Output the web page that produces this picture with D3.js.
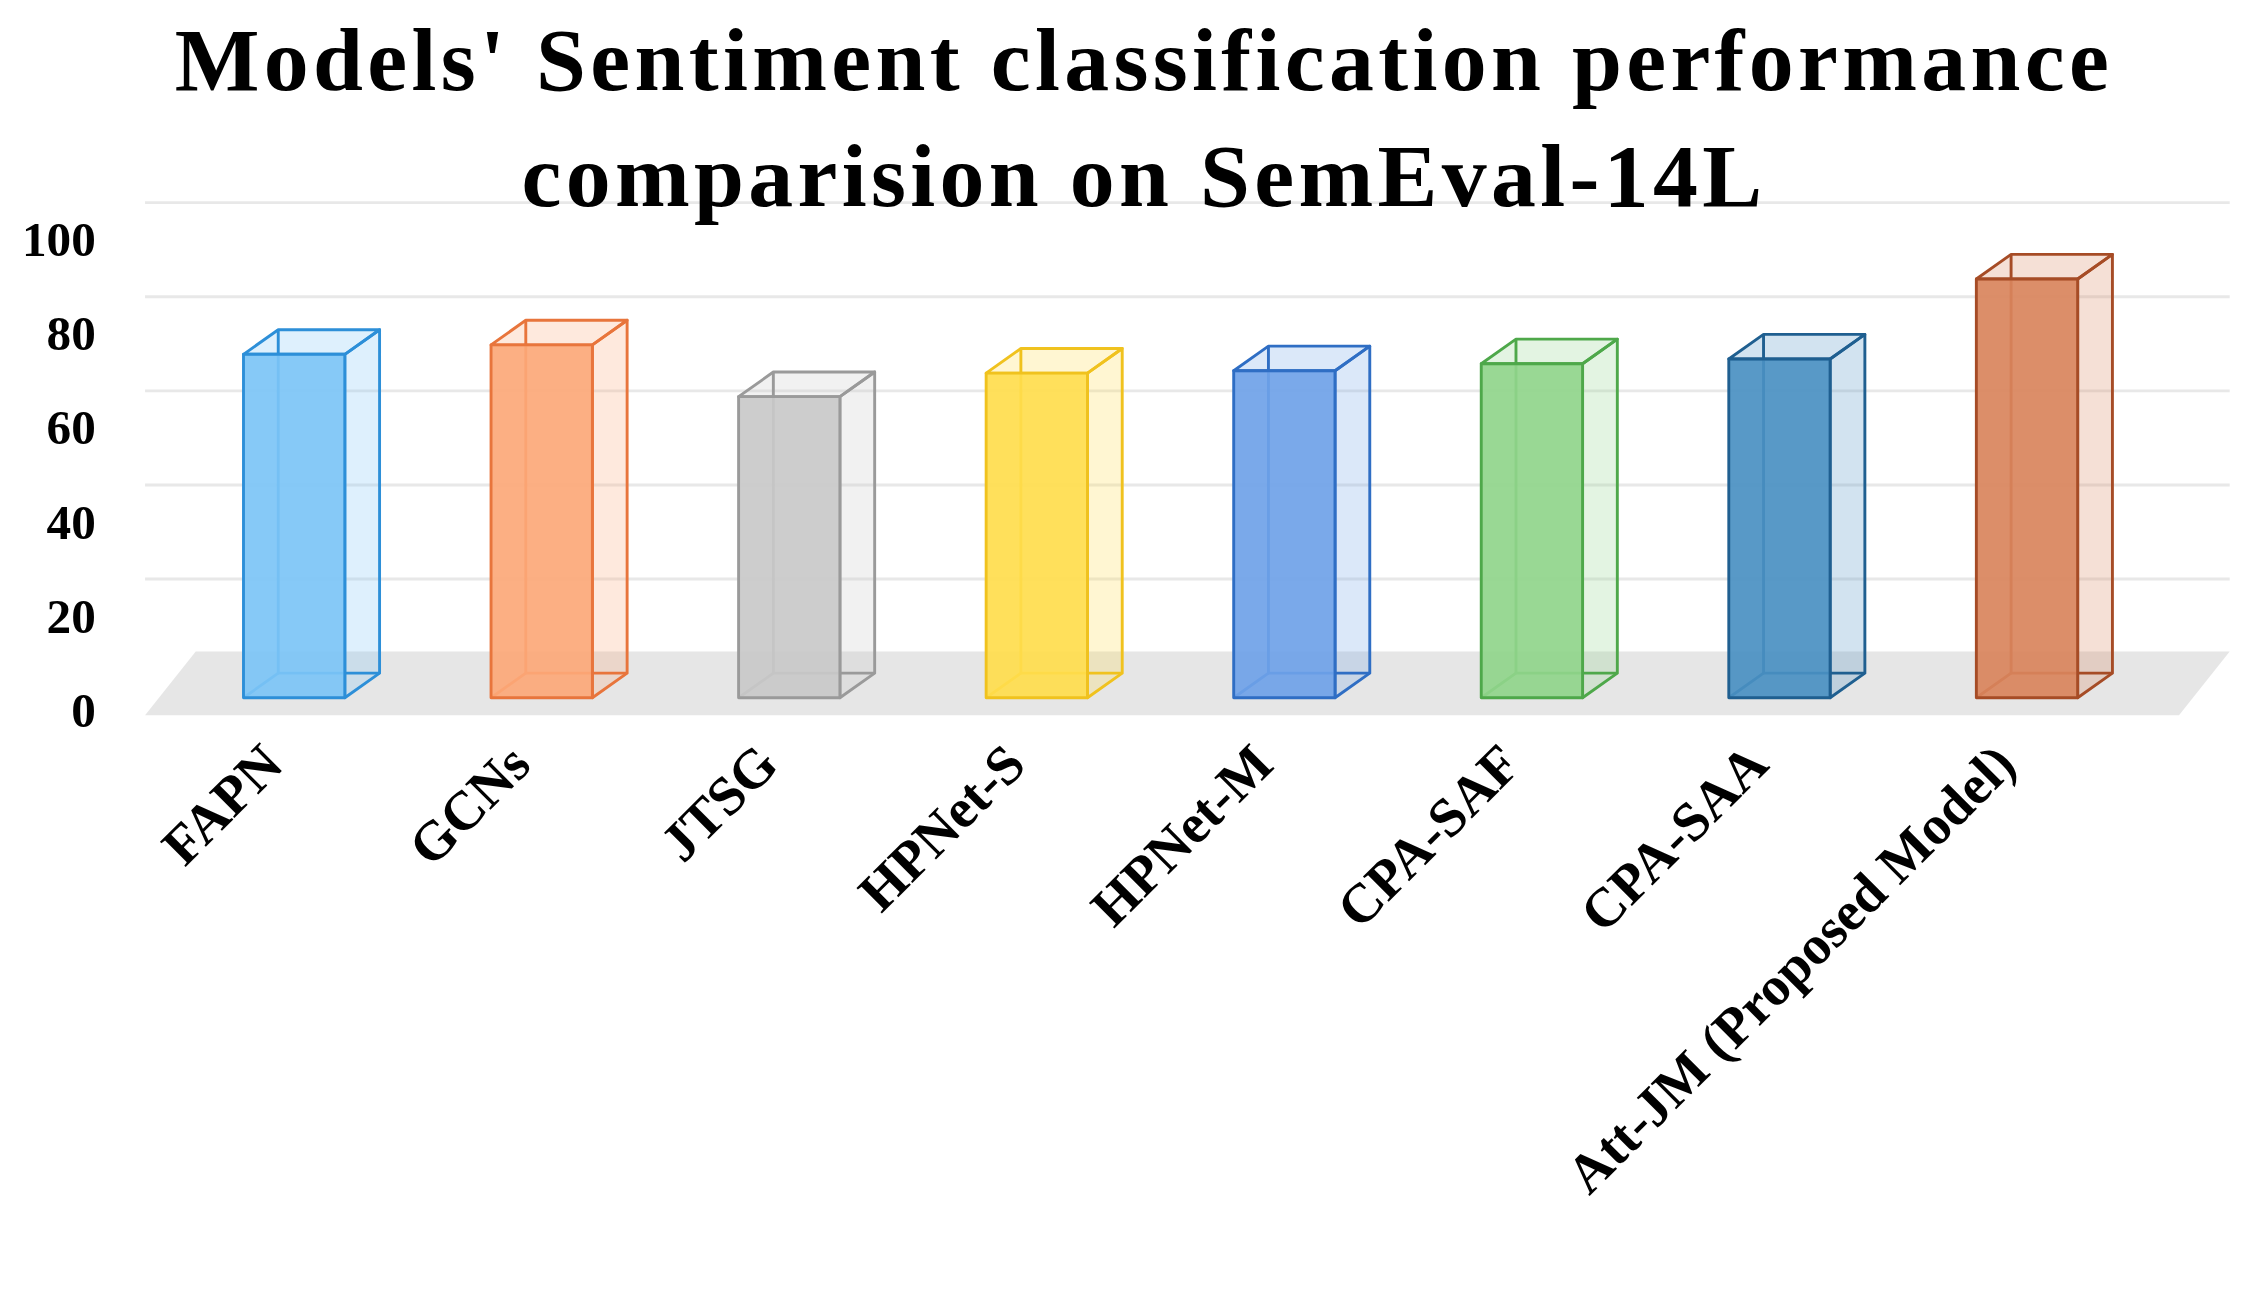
<!DOCTYPE html>
<html><head><meta charset="utf-8">
<script src="https://cdn.jsdelivr.net/npm/d3@7"></script>
<style>body{margin:0;background:#fff}</style>
</head><body>
<script>
var categories = ["FAPN","GCNs","JTSG","HPNet-S","HPNet-M","CPA-SAF","CPA-SAA","Att-JM (Proposed Model)"];
var values = [73, 75, 64, 69, 69.5, 71, 72, 89];
var fills = ["#7cc4f6","#fca878","#c9c9c9","#ffdd4d","#6fa2e8","#90d58b","#4a90c2","#d9845c"];
var strokes = ["#2d8fd8","#e8753c","#9a9a9a","#f0c21e","#2f6ec4","#4ea84a","#1f5f90","#a64c26"];
var ticks = [0,20,40,60,80,100];

var svg = d3.select("body").append("svg").attr("width",2243).attr("height",1300)
  .attr("viewBox","0 0 1549 898");
var dx = 24, dy = -17, bw = 70;
var x = d3.scalePoint().domain(categories).range([203,1400]);
var y = d3.scaleLinear().domain([0,100]).range([482,157]);

ticks.forEach(function(t){
  if(t===0) return;
  svg.append("line").attr("x1",100).attr("x2",1540)
    .attr("y1",y(t)+dy).attr("y2",y(t)+dy).attr("stroke","#e8e8e8").attr("stroke-width",2);
});
svg.append("polygon").attr("points",[[100,494],[1505,494],[1540,450],[135,450]].join(" ")).attr("fill","#e6e6e6");

svg.selectAll(".yt").data(ticks).enter().append("text")
  .attr("x",66).attr("y",function(d){return y(d)+20;}).attr("text-anchor","end")
  .attr("font-family","Liberation Serif").attr("font-weight","bold").attr("font-size",34)
  .text(function(d){return d;});

categories.forEach(function(c,i){
  var x0 = x(c)-bw/2, x1 = x0+bw, yt = y(values[i]), yb = y(0);
  var g = svg.append("g").attr("stroke",strokes[i]).attr("stroke-width",2).attr("stroke-linejoin","round");
  g.append("polygon").attr("points",[[x1,yb],[x1+dx,yb+dy],[x1+dx,yt+dy],[x1,yt]].join(" "))
    .attr("fill",fills[i]).attr("fill-opacity",0.25);
  g.append("polygon").attr("points",[[x0,yt],[x0+dx,yt+dy],[x1+dx,yt+dy],[x1,yt]].join(" "))
    .attr("fill",fills[i]).attr("fill-opacity",0.25);
  g.append("polyline").attr("points",[[x0+dx,yt+dy],[x0+dx,yb+dy],[x1+dx,yb+dy]].join(" ")).attr("fill","none");
  g.append("line").attr("x1",x0).attr("y1",yb).attr("x2",x0+dx).attr("y2",yb+dy);
  g.append("rect").attr("x",x0).attr("y",yt).attr("width",bw).attr("height",yb-yt)
    .attr("fill",fills[i]).attr("fill-opacity",0.92);
  svg.append("text").attr("transform","translate("+(x(c)-6)+",530) rotate(-45)")
    .attr("text-anchor","end").attr("font-family","Liberation Serif").attr("font-weight","bold")
    .attr("font-size",38).text(c);
});

svg.selectAll(".title").data(["Models' Sentiment classification performance","comparision on SemEval-14L"])
  .enter().append("text").attr("x",790).attr("y",function(d,i){return 62+i*80;})
  .attr("text-anchor","middle").attr("font-family","Liberation Serif").attr("font-weight","bold")
  .attr("font-size",62).attr("letter-spacing",3).text(function(d){return d;});
</script>
</body></html>
